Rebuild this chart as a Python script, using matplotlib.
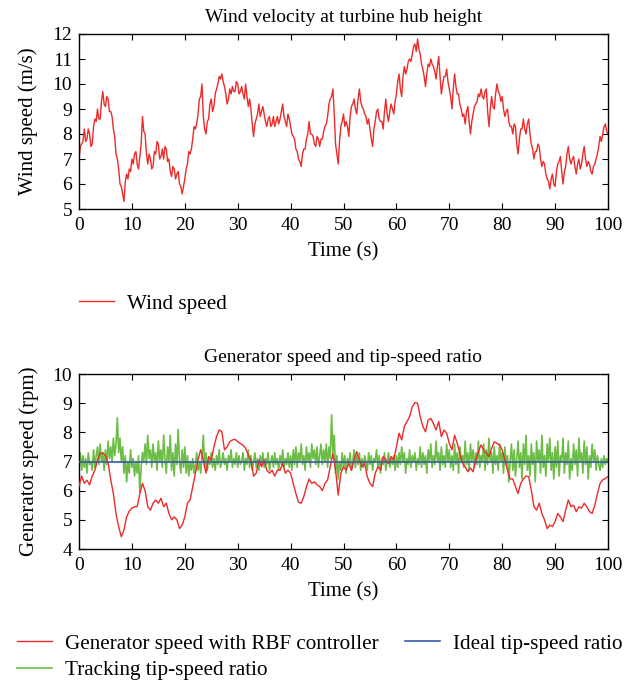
import numpy as np
import matplotlib
matplotlib.use("Agg")
import matplotlib.pyplot as plt

plt.rcParams['font.family'] = ['Liberation Serif', 'DejaVu Serif']

# ---------------- data ----------------
wind_speed = [
    7.0, 7.5, 7.6, 7.7, 8.2, 7.7, 7.8, 8.2, 8.0, 7.5, 7.6, 8.3, 8.6, 8.5, 9.0, 8.6, 8.6, 9.3, 9.7, 9.2,
    9.1, 9.5, 9.4, 8.9, 8.9, 8.7, 8.2, 7.9, 7.2, 7.0, 6.6, 6.0, 5.9, 5.6, 5.3, 6.1, 6.4, 6.2, 6.6, 6.5,
    7.0, 6.8, 7.2, 7.3, 6.8, 6.6, 7.1, 7.6, 8.7, 8.1, 8.0, 7.2, 6.8, 7.2, 7.0, 6.6, 6.7, 7.3, 7.2, 7.7,
    7.6, 7.0, 7.1, 7.4, 7.0, 7.5, 7.4, 6.9, 7.0, 6.5, 6.3, 6.7, 6.6, 6.2, 6.4, 6.5, 6.0, 5.9, 5.6, 5.9,
    6.2, 6.6, 6.8, 7.3, 7.2, 7.4, 7.8, 8.3, 8.2, 8.4, 8.8, 9.4, 9.5, 10.0, 8.7, 8.2, 8.0, 8.5, 8.6, 9.2,
    9.4, 8.9, 9.1, 9.6, 9.8, 10.0, 10.3, 10.2, 10.4, 10.1, 9.9, 9.6, 9.2, 9.4, 9.8, 9.6, 9.9, 9.7, 9.7, 10.1,
    10.0, 9.6, 9.7, 9.9, 9.6, 9.4, 10.0, 9.5, 9.1, 9.4, 9.0, 8.4, 7.9, 8.4, 8.6, 8.8, 9.2, 8.7, 8.9, 9.1,
    8.8, 8.5, 8.3, 8.6, 8.7, 8.3, 8.4, 8.7, 8.3, 8.5, 8.7, 8.4, 8.6, 8.9, 9.2, 8.7, 8.5, 8.3, 8.8, 8.6,
    8.3, 8.0, 7.9, 7.8, 7.4, 7.3, 7.0, 6.9, 6.7, 7.2, 7.4, 7.4, 7.8, 8.0, 8.5, 8.0, 8.0, 7.9, 7.6, 7.5,
    7.9, 7.8, 7.5, 7.8, 7.8, 8.1, 8.3, 8.4, 8.7, 9.2, 9.4, 9.5, 9.8, 8.8, 7.6, 7.2, 6.8, 7.7, 8.3, 8.5,
    8.8, 8.3, 8.5, 8.3, 7.9, 8.7, 9.1, 9.2, 9.4, 9.0, 8.8, 9.4, 9.8, 9.3, 9.1, 9.0, 8.8, 8.7, 8.4, 8.6,
    8.2, 7.8, 7.5, 8.2, 8.5, 8.9, 9.0, 8.6, 8.5, 8.5, 8.2, 8.9, 9.4, 8.8, 8.5, 8.9, 9.2, 9.0, 8.8, 9.3,
    9.6, 10.1, 10.4, 9.8, 9.5, 10.3, 10.7, 10.4, 10.6, 10.9, 11.0, 10.9, 11.2, 11.5, 11.6, 11.3, 11.8, 11.4, 11.2, 10.8,
    10.6, 10.3, 9.9, 10.4, 10.8, 10.7, 11.0, 10.8, 10.7, 10.5, 10.2, 10.7, 11.1, 10.3, 9.6, 10.0, 10.3, 10.3, 10.6, 10.1,
    9.8, 9.5, 9.0, 9.8, 10.4, 9.9, 9.6, 9.6, 9.2, 9.0, 8.7, 8.8, 8.4, 8.9, 9.1, 8.5, 8.0, 8.5, 8.8, 9.1,
    9.2, 9.3, 9.6, 9.5, 9.8, 9.5, 9.4, 9.7, 9.8, 8.9, 8.3, 9.0, 9.5, 9.1, 9.0, 9.6, 10.0, 9.7, 9.6, 9.3,
    9.5, 9.0, 8.7, 8.9, 9.0, 8.5, 8.3, 8.3, 8.0, 8.4, 8.3, 7.6, 7.2, 7.8, 8.2, 8.2, 8.6, 8.2, 8.0, 8.4,
    8.6, 8.0, 7.6, 7.4, 7.0, 7.3, 7.3, 7.6, 7.5, 7.0, 6.7, 6.9, 6.8, 6.4, 6.2, 6.1, 5.8, 6.2, 6.4, 6.0,
    5.9, 6.5, 6.8, 6.9, 7.1, 6.5, 6.0, 6.5, 6.7, 7.2, 7.5, 7.0, 6.8, 7.0, 7.1, 6.7, 6.4, 6.8, 7.0, 6.6,
    6.8, 7.2, 7.5, 7.0, 6.7, 6.9, 6.8, 6.5, 6.4, 6.7, 6.8, 7.0, 7.2, 7.5, 7.9, 7.7, 8.0, 8.3, 8.4, 8.1,
    8.0,
]
wind_time = np.linspace(0, 100, len(wind_speed))

gen_speed = [
    6.15, 6.5, 6.25, 6.36, 6.2, 6.5, 6.7, 7.05, 7.28, 7.3,
    7.2, 6.95, 6.37, 5.9, 5.2, 4.77, 4.42, 4.65, 5.1, 5.3,
    5.4, 5.45, 5.45, 5.9, 6.25, 6.0, 5.45, 5.33, 5.57, 5.68,
    5.57, 5.74, 5.45, 5.57, 5.22, 5.0, 5.1, 5.0, 4.7, 4.82,
    5.1, 5.57, 5.68, 6.14, 6.6, 7.05, 7.4, 7.05, 6.6, 7.17,
    7.05, 7.5, 7.85, 8.08, 8.02, 7.4, 7.5, 7.68, 7.74, 7.76,
    7.68, 7.62, 7.56, 7.45, 7.22, 7.05, 6.5, 6.6, 7.05, 6.82,
    7.05, 6.7, 6.6, 6.7, 6.5, 6.7, 6.7, 6.93, 6.6, 6.7,
    6.6, 6.25, 5.9, 5.6, 5.57, 5.8, 6.14, 6.4, 6.25, 6.3,
    6.2, 6.14, 6.0, 6.25, 6.37, 6.82, 7.28, 6.7, 5.85, 6.6,
    6.82, 6.7, 6.93, 6.7, 7.05, 7.34, 7.05, 6.82, 6.93, 6.48,
    6.25, 6.14, 6.6, 6.82, 6.7, 7.17, 7.05, 6.93, 7.17, 7.05,
    7.5, 7.97, 7.74, 8.2, 8.37, 8.54, 8.88, 9.02, 9.0, 8.54,
    8.2, 8.02, 8.42, 8.48, 8.3, 8.08, 8.37, 7.85, 8.08, 7.97,
    7.62, 7.4, 7.9, 7.62, 7.28, 6.93, 6.82, 6.65, 6.77, 6.65,
    7.05, 7.34, 7.57, 7.4, 7.28, 7.17, 7.45, 7.68, 7.62, 7.57,
    7.4, 7.05, 6.7, 6.4, 6.4, 6.14, 5.9, 6.25, 6.4, 6.5,
    6.48, 6.02, 5.45, 5.33, 5.57, 5.22, 5.0, 4.7, 4.82, 4.77,
    4.94, 5.22, 5.1, 4.94, 5.33, 5.68, 5.45, 5.5, 5.28, 5.45,
    5.4, 5.57, 5.45, 5.28, 5.22, 5.5, 5.9, 6.25, 6.37, 6.42,
    6.48,
]
gen_time = np.linspace(0, 100, len(gen_speed))

ideal_time = [0, 100]
ideal_tsr = [7.0, 7.0]

tracking_tsr = [
    6.9, 7.3, 6.7, 7.2, 6.8, 7.1, 6.6, 7.3, 6.9, 7.0, 6.7, 7.4, 6.8, 7.2, 7.5, 6.9, 7.6, 7.0, 7.3, 6.7,
    7.4, 6.9, 7.7, 7.1, 7.5, 7.0, 7.8, 7.2, 7.6, 8.5, 7.3, 7.8, 7.0, 7.5, 6.6, 7.2, 6.3, 7.0, 6.6, 7.4,
    6.8, 7.1, 6.5, 7.0, 6.6, 7.2, 5.95, 6.8, 7.3, 7.0, 7.6, 6.9, 7.9, 7.1, 7.4, 6.8, 7.6, 7.0, 7.3, 6.7,
    7.7, 7.0, 7.4, 6.8, 7.9, 7.1, 6.6, 7.5, 7.0, 7.9, 6.7, 7.3, 6.5, 7.6, 6.9, 8.1, 7.0, 6.6, 7.4, 6.8,
    7.5, 6.6, 7.2, 6.5, 7.0, 6.7, 7.1, 6.6, 6.9, 7.3, 6.7, 7.0, 6.6, 7.2, 7.9, 6.8, 7.3, 6.7, 7.1, 6.9,
    7.3, 6.8, 7.1, 6.7, 7.2, 6.9, 7.4, 6.8, 7.0, 7.3, 6.9, 7.1, 6.7, 7.2, 7.0, 7.4, 6.8, 7.1, 6.9, 7.3,
    6.8, 7.2, 6.9, 7.0, 7.3, 6.7, 7.1, 6.9, 7.4, 6.8, 7.2, 6.7, 7.0, 7.3, 6.8, 7.1, 6.7, 7.2, 6.9, 7.3,
    6.8, 7.1, 6.9, 7.3, 6.7, 7.0, 7.2, 6.8, 7.3, 6.9, 7.1, 6.7, 7.2, 6.9, 7.4, 6.8, 7.1, 6.9, 7.3, 6.8,
    7.2, 6.7, 7.4, 6.9, 7.5, 6.8, 7.3, 7.0, 7.6, 6.9, 7.2, 6.7, 7.5, 7.0, 7.3, 6.8, 7.6, 7.1, 7.4, 6.9,
    7.5, 6.8, 7.2, 7.6, 6.9, 7.4, 7.0, 7.6, 6.8, 7.5, 7.1, 8.6, 7.3, 7.9, 6.6, 7.2, 6.4, 7.0, 6.7, 7.3,
    6.8, 7.2, 6.6, 7.1, 6.9, 7.3, 6.7, 7.0, 7.4, 6.8, 7.2, 6.9, 7.3, 6.7, 7.1, 6.8, 7.2, 7.0, 6.7, 7.3,
    6.9, 7.2, 6.7, 7.1, 7.0, 7.4, 6.8, 7.2, 6.6, 7.1, 6.9, 7.3, 6.7, 7.0, 7.3, 6.8, 7.1, 6.9, 7.2, 6.7,
    7.2, 6.8, 7.3, 6.9, 7.5, 7.0, 7.3, 6.6, 7.1, 6.9, 7.4, 6.8, 7.2, 7.0, 7.3, 6.7, 7.1, 6.9, 7.5, 6.8,
    7.3, 6.9, 7.2, 6.6, 7.4, 7.0, 7.6, 6.8, 7.2, 6.9, 7.7, 7.0, 7.3, 6.7, 7.5, 6.9, 7.2, 6.8, 7.6, 7.0,
    7.4, 6.8, 7.2, 6.7, 7.6, 6.9, 7.3, 6.6, 7.5, 7.0, 7.2, 6.8, 7.7, 6.9, 7.3, 6.7, 7.6, 7.0, 7.4, 6.8,
    7.3, 6.9, 7.7, 6.8, 7.2, 7.0, 7.6, 6.7, 7.4, 6.9, 7.8, 7.0, 7.3, 6.6, 7.5, 6.9, 7.2, 6.7, 7.6, 7.0,
    7.3, 6.6, 7.5, 6.9, 7.2, 6.3, 7.0, 7.6, 6.7, 7.4, 6.5, 7.1, 7.7, 6.8, 7.3, 6.4, 7.6, 6.9, 7.9, 6.7,
    7.2, 6.5, 7.6, 6.9, 7.3, 6.3, 7.7, 7.0, 7.4, 6.6, 7.9, 6.8, 7.2, 6.5, 7.6, 7.0, 7.8, 6.7, 7.3, 6.4,
    7.5, 6.8, 7.7, 6.5, 7.2, 7.0, 7.8, 6.6, 7.3, 6.9, 7.7, 6.4, 7.1, 6.7, 7.6, 6.9, 7.4, 6.5, 7.8, 7.0,
    7.3, 6.6, 7.7, 6.9, 7.5, 6.4, 7.2, 6.8, 7.6, 7.0, 7.4, 6.7, 7.2, 6.9, 6.7, 7.1, 6.8, 7.2, 6.9, 7.1,
    7.0,
]
tsr_time = np.linspace(0, 100, len(tracking_tsr))

x_ticks = [0, 10, 20, 30, 40, 50, 60, 70, 80, 90, 100]
wind_yticks = [5, 6, 7, 8, 9, 10, 11, 12]
gen_yticks = [4, 5, 6, 7, 8, 9, 10]

RED = '#ee2a2a'
GREEN = '#6cbd45'
BLUE = '#3a5aa8'

# ---------------- figure ----------------
W, H = 637, 684
fig = plt.figure(figsize=(W / 100, H / 100), dpi=100)

def ax_rect(l, t, r, b):
    return [l / W, 1 - b / H, (r - l) / W, (b - t) / H]

TICK_FS = 14
LABEL_FS = 15
TITLE_FS = 14
LEG_FS = 15.2

def style(ax):
    ax.tick_params(direction='in', top=True, right=True, labelsize=TICK_FS,
                   length=4, width=0.8)
    ax.tick_params(axis='x', pad=6)
    ax.tick_params(axis='y', pad=5)
    for s in ax.spines.values():
        s.set_linewidth(1.0)

ax1 = fig.add_axes(ax_rect(79, 34, 608, 209))
l1, = ax1.plot(wind_time, wind_speed, color=RED, lw=1.0, label='Wind speed')
ax1.set_xlim(0, 100)
ax1.set_ylim(5, 12)
ax1.set_xticks(x_ticks)
ax1.set_yticks(wind_yticks)
ax1.set_xlabel('Time (s)', fontsize=LABEL_FS, labelpad=6)
ax1.set_ylabel('Wind speed (m/s)', fontsize=LABEL_FS, labelpad=10)
ax1.set_title('Wind velocity at turbine hub height', fontsize=TITLE_FS, pad=9)
style(ax1)
fig.legend(handles=[l1], loc='upper left', bbox_to_anchor=(79 / W, 1 - 294 / H),
           frameon=False, fontsize=LEG_FS, handlelength=1.65, handletextpad=0.62,
           borderpad=0, borderaxespad=0)

ax2 = fig.add_axes(ax_rect(79, 374, 608, 549))
l2, = ax2.plot(gen_time, gen_speed, color=RED, lw=1.0,
               label='Generator speed with RBF controller', zorder=3)
l4, = ax2.plot(tsr_time, tracking_tsr, color=GREEN, lw=1.2,
               label='Tracking tip-speed ratio', zorder=2)
l3, = ax2.plot(ideal_time, ideal_tsr, color=BLUE, lw=1.2,
               label='Ideal tip-speed ratio', zorder=4)
ax2.set_xlim(0, 100)
ax2.set_ylim(4, 10)
ax2.set_xticks(x_ticks)
ax2.set_yticks(gen_yticks)
ax2.set_xlabel('Time (s)', fontsize=LABEL_FS, labelpad=6)
ax2.set_ylabel('Generator speed (rpm)', fontsize=LABEL_FS, labelpad=10)
ax2.set_title('Generator speed and tip-speed ratio', fontsize=TITLE_FS, pad=9)
style(ax2)
fig.legend(handles=[l2, l4, l3],
           labels=['Generator speed with RBF controller', 'Tracking tip-speed ratio',
                   'Ideal tip-speed ratio'],
           ncol=2, loc='upper left', bbox_to_anchor=(17 / W, 1 - 634 / H),
           frameon=False, fontsize=LEG_FS, handlelength=1.65, handletextpad=0.62,
           columnspacing=1.25, labelspacing=0.3, borderpad=0, borderaxespad=0)

fig.savefig('out.png', dpi=100)
